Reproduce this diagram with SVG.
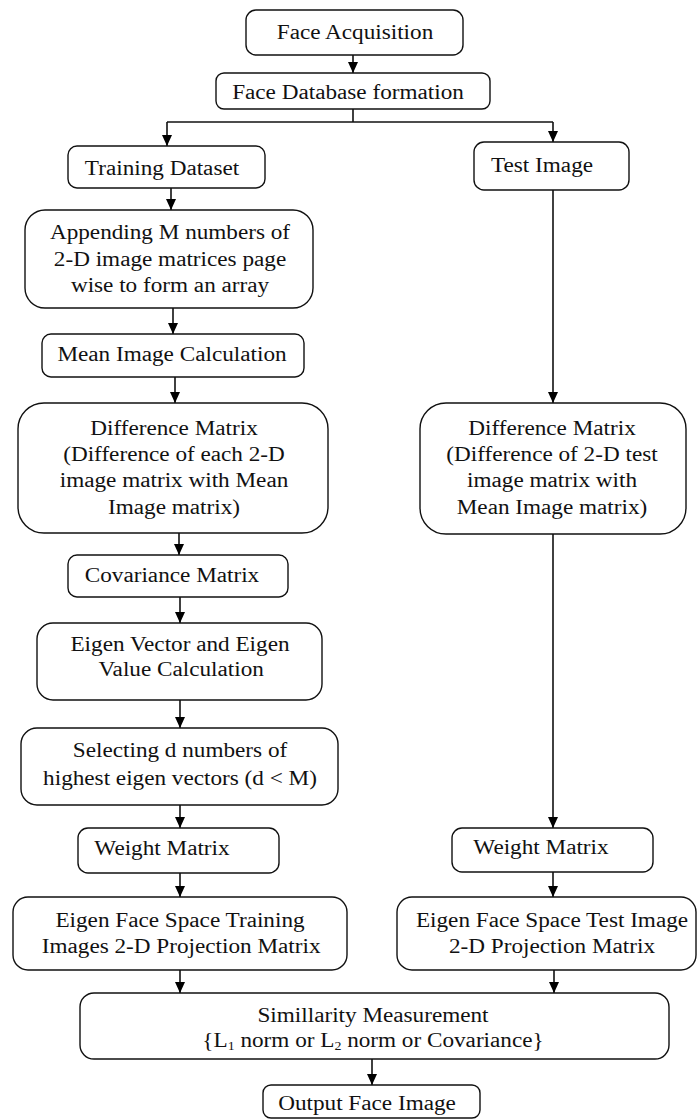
<svg xmlns="http://www.w3.org/2000/svg" width="698" height="1120" viewBox="0 0 698 1120">
<defs>
<marker id="ah" markerUnits="userSpaceOnUse" markerWidth="12" markerHeight="12" viewBox="0 0 12 12" refX="11" refY="6" orient="auto">
<path d="M0,1 L11,6 L0,11 Z" fill="#000"/>
</marker>
</defs>
<style>
.b{fill:#fff;stroke:#111;stroke-width:1.4}
.t{font-family:"Liberation Serif","Times New Roman",serif;font-size:20px;fill:#111;text-anchor:middle}
.c{fill:none;stroke:#111;stroke-width:1.6}
.a{marker-end:url(#ah)}
</style>
<rect width="698" height="1120" fill="#fff"/>
<g id="connectors">
<line class="c a" x1="353" y1="55" x2="353" y2="73"/>
<polyline class="c" points="353,109 353,122"/>
<line class="c" x1="167" y1="122" x2="553" y2="122"/>
<line class="c a" x1="167" y1="122" x2="167" y2="146"/>
<line class="c a" x1="553" y1="122" x2="553" y2="142"/>
<line class="c a" x1="171" y1="188" x2="171" y2="210"/>
<line class="c a" x1="173" y1="308" x2="173" y2="334"/>
<line class="c a" x1="175" y1="377" x2="175" y2="403"/>
<line class="c a" x1="179" y1="533" x2="179" y2="555"/>
<line class="c a" x1="180" y1="597" x2="180" y2="623"/>
<line class="c a" x1="180" y1="700" x2="180" y2="728"/>
<line class="c a" x1="180" y1="805" x2="180" y2="828"/>
<line class="c a" x1="180" y1="873" x2="180" y2="897"/>
<line class="c a" x1="180" y1="970" x2="180" y2="993"/>
<line class="c a" x1="553" y1="190" x2="553" y2="403"/>
<line class="c a" x1="553" y1="534" x2="553" y2="828"/>
<line class="c a" x1="553" y1="872" x2="553" y2="897"/>
<line class="c a" x1="554" y1="970" x2="554" y2="993"/>
<line class="c a" x1="372" y1="1059" x2="372" y2="1085"/>
</g>
<g id="face-acquisition">
<rect class="b" x="246" y="10" width="217" height="45" rx="10"/>
<text class="t" transform="translate(355 0) scale(1.16 1)" x="0" y="39">Face Acquisition</text>
</g>
<g id="face-database">
<rect class="b" x="216" y="73" width="274" height="36" rx="8"/>
<text class="t" transform="translate(348 0) scale(1.16 1)" x="0" y="99">Face Database formation</text>
</g>
<g id="training-dataset">
<rect class="b" x="68" y="146" width="197" height="42" rx="9"/>
<text class="t" transform="translate(162 0) scale(1.16 1)" x="0" y="175">Training Dataset</text>
</g>
<g id="test-image">
<rect class="b" x="474" y="142" width="155" height="48" rx="10"/>
<text class="t" transform="translate(542 0) scale(1.16 1)" x="0" y="172">Test Image</text>
</g>
<g id="appending">
<rect class="b" x="25" y="210" width="288" height="98" rx="20"/>
<g transform="translate(170 0) scale(1.16 1)">
<text class="t" x="0" y="239">Appending M numbers of</text>
<text class="t" x="0" y="266">2-D image matrices page</text>
<text class="t" x="0" y="292">wise to form an array</text>
</g>
</g>
<g id="mean-image">
<rect class="b" x="42" y="334" width="262" height="43" rx="9"/>
<text class="t" transform="translate(172 0) scale(1.16 1)" x="0" y="361">Mean Image Calculation</text>
</g>
<g id="difference-train">
<rect class="b" x="18" y="403" width="310" height="130" rx="26"/>
<g transform="translate(174 0) scale(1.16 1)">
<text class="t" x="0" y="435">Difference Matrix</text>
<text class="t" x="0" y="461">(Difference of each 2-D</text>
<text class="t" x="0" y="487">image matrix with Mean</text>
<text class="t" x="0" y="514">Image matrix)</text>
</g>
</g>
<g id="difference-test">
<rect class="b" x="420" y="403" width="266" height="131" rx="26"/>
<g transform="translate(552 0) scale(1.16 1)">
<text class="t" x="0" y="435">Difference Matrix</text>
<text class="t" x="0" y="461">(Difference of 2-D test</text>
<text class="t" x="0" y="487">image matrix with</text>
<text class="t" x="0" y="514">Mean Image matrix)</text>
</g>
</g>
<g id="covariance">
<rect class="b" x="68" y="555" width="220" height="42" rx="9"/>
<text class="t" transform="translate(172 0) scale(1.16 1)" x="0" y="582">Covariance Matrix</text>
</g>
<g id="eigen-vector">
<rect class="b" x="37" y="623" width="285" height="77" rx="16"/>
<g transform="translate(180 0) scale(1.16 1)">
<text class="t" x="0" y="651">Eigen Vector and Eigen</text>
<text class="t" x="1" y="676">Value Calculation</text>
</g>
</g>
<g id="selecting">
<rect class="b" x="21" y="728" width="317" height="77" rx="16"/>
<g transform="translate(180 0) scale(1.16 1)">
<text class="t" x="0" y="757">Selecting d numbers of</text>
<text class="t" x="0" y="785">highest eigen vectors (d &lt; M)</text>
</g>
</g>
<g id="weight-train">
<rect class="b" x="78" y="828" width="201" height="45" rx="10"/>
<text class="t" transform="translate(162 0) scale(1.16 1)" x="0" y="855">Weight Matrix</text>
</g>
<g id="weight-test">
<rect class="b" x="452" y="828" width="201" height="44" rx="10"/>
<text class="t" transform="translate(541 0) scale(1.16 1)" x="0" y="854">Weight Matrix</text>
</g>
<g id="eigenface-train">
<rect class="b" x="13" y="897" width="334" height="73" rx="15"/>
<g transform="translate(180 0) scale(1.16 1)">
<text class="t" x="0" y="927">Eigen Face Space Training</text>
<text class="t" x="1" y="953">Images 2-D Projection Matrix</text>
</g>
</g>
<g id="eigenface-test">
<rect class="b" x="397" y="897" width="299" height="73" rx="15"/>
<g transform="translate(552 0) scale(1.16 1)">
<text class="t" x="0" y="927">Eigen Face Space Test Image</text>
<text class="t" x="0" y="953">2-D Projection Matrix</text>
</g>
</g>
<g id="similarity">
<rect class="b" x="80" y="993" width="589" height="66" rx="14"/>
<g transform="translate(373 0) scale(1.16 1)">
<text class="t" x="0" y="1022">Simillarity Measurement</text>
<text class="t" x="0" y="1047">{L<tspan font-size="12" dy="3">1</tspan><tspan dy="-3"> norm or L</tspan><tspan font-size="12" dy="3">2</tspan><tspan dy="-3"> norm or Covariance}</tspan></text>
</g>
</g>
<g id="output">
<rect class="b" x="263" y="1085" width="217" height="33" rx="8"/>
<text class="t" transform="translate(367 0) scale(1.16 1)" x="0" y="1110">Output Face Image</text>
</g>
</svg>
